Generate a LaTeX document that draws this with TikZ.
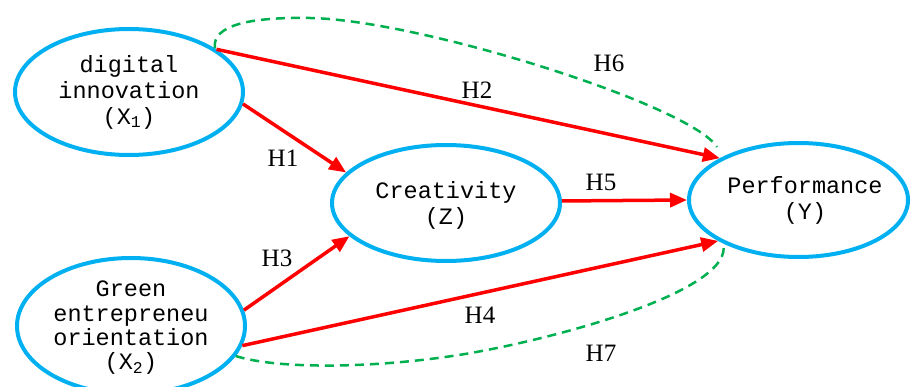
\documentclass[tikz,border=0pt]{standalone}
\usepackage{fontspec}
\setmainfont{Liberation Serif}
\newfontfamily\monof{Liberation Mono}
\usetikzlibrary{arrows.meta,shapes.geometric}
\definecolor{ovalblue}{HTML}{00B0F0}
\definecolor{arrred}{HTML}{FF0000}
\definecolor{dashgreen}{HTML}{00B050}
\tikzset{
  oval/.style={ellipse, draw=ovalblue, line width=4pt, inner sep=0pt},
  vartext/.style={align=center, inner sep=0pt, font=\monof\fontsize{23.5pt}{26pt}\selectfont},
  hyp/.style={inner sep=0pt, font=\rmfamily\fontsize{25pt}{27pt}\selectfont},
  causal/.style={draw=arrred, line width=3.5pt, -{Triangle[length=17pt,width=14pt]}},
  corr/.style={draw=dashgreen, line width=2.5pt, dash pattern=on 9pt off 6pt}
}
\begin{document}
\begin{tikzpicture}[x=1pt,y=-1pt]
\useasboundingbox (0,0) rectangle (911,387);
% ovals
\node[oval, minimum width=228pt, minimum height=126pt] (X1) at (129,92) {};
\node[oval, minimum width=228pt, minimum height=116pt] (Z) at (446,203) {};
\node[oval, minimum width=219pt, minimum height=114pt] (Y) at (798.5,200) {};
\node[oval, minimum width=228pt, minimum height=136pt] (X2) at (131,326) {};
% texts
\node[vartext] (tX1) at (129,92) {digital\\innovation\\(X\textsubscript{1})};
\node[vartext] (tZ) at (446,205) {Creativity\\(Z)};
\node[vartext] (tY) at (805,200) {Performance\\(Y)};
\node[vartext, font=\monof\fontsize{23.5pt}{24.3pt}\selectfont] (tX2) at (131,328) {Green\\entrepreneu\\orientation\\(X\textsubscript{2})};
% causal arrows
\draw[causal] (X1.26) -- (Y.152);
\draw[causal] (X1.-6) -- (Z.163);
\draw[causal] (X2.8) -- (Z.-161);
\draw[causal] (X2.-10) -- (Y.-153);
\draw[causal] (Z.1.5) -- (Y.180);
% dashed correlations
\coordinate (h6e) at (717,147);
\draw[corr] (X1.27) .. controls (212,25) and (250,17) .. (310,18)
  .. controls (420,20) and (690,105) .. (h6e);
\draw[corr] (X2.-16) .. controls (280,370) and (380,368) .. (465,354)
  .. controls (560,338) and (735,290) .. (Y.-150);
% labels
\node[hyp] (H1) at (283,158) {H1};
\node[hyp] (H2) at (477,90) {H2};
\node[hyp] (H3) at (277,258) {H3};
\node[hyp] (H4) at (480,315) {H4};
\node[hyp] (H5) at (601,182) {H5};
\node[hyp] (H6) at (609,63) {H6};
\node[hyp] (H7) at (601,353) {H7};
\end{tikzpicture}
\end{document}
